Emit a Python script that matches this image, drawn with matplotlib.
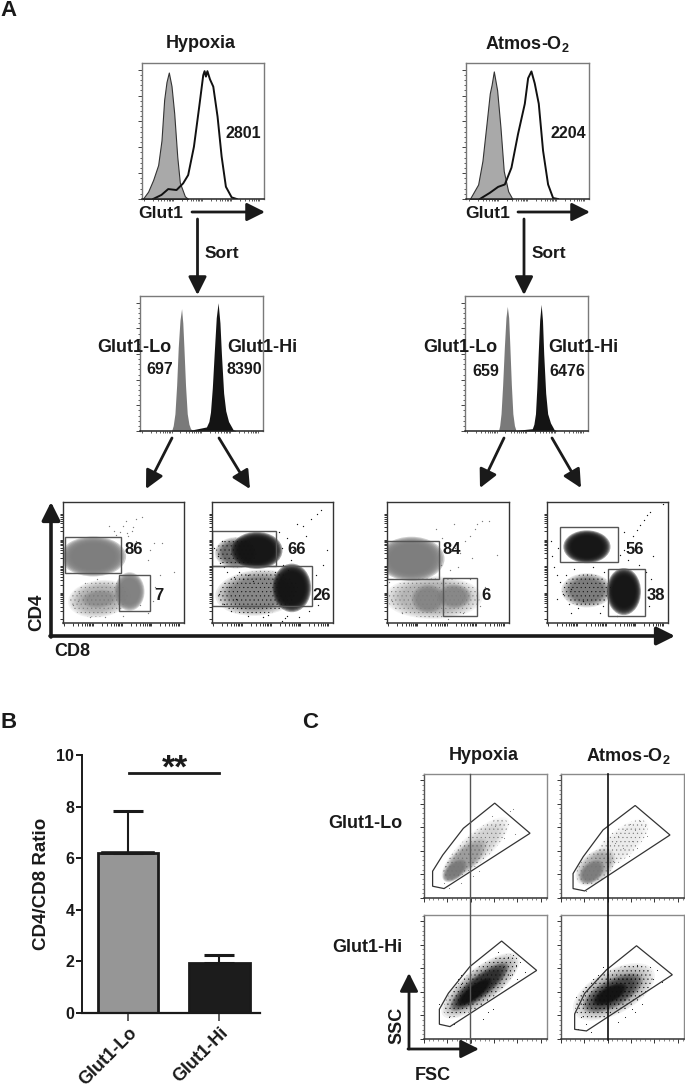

import numpy as np
import matplotlib
matplotlib.use('Agg')
import matplotlib.pyplot as plt
from matplotlib.patches import Ellipse, Polygon, Rectangle

plt.rcParams['font.family'] = ['Liberation Sans', 'DejaVu Sans']
plt.rcParams['font.weight'] = 'bold'
plt.rcParams['axes.labelweight'] = 'bold'
plt.rcParams['mathtext.fontset'] = 'custom'
plt.rcParams['mathtext.rm'] = 'Liberation Sans:bold'
plt.rcParams['mathtext.default'] = 'rm'
plt.rcParams['hatch.linewidth'] = 0.3

W, H = 685, 1092
DOT_GRAY = '#7d7d7d'
BLACK = '#141414'
TEXT = '#1a1a1a'

#
# Data: everything, histograms and gates in percent of the plot box
#

# Glut1 histograms, before the sort
hyp_iso_x = [1, 5.4, 9.5, 13.6, 16.3, 18.5, 20.4, 22.3, 24.5, 26.7, 29.2, 31.3, 35.4, 38.1]
hyp_iso_y = [0, 5.4, 14, 25, 43, 73, 86, 93, 83, 63, 31, 12, 2, 0]
hyp_glut_x = [9.5, 16.3, 21.8, 28.6, 34, 38.1, 42.8, 47.1, 50.4, 51.5, 52.6, 53.8, 55.9, 58.6, 62.1, 65.4, 68.9, 73.6, 77.7]
hyp_glut_y = [0, 3, 7.3, 6.6, 11.5, 17.6, 38.4, 67.7, 91, 94, 90, 94, 88, 82.6, 60.5, 31.3, 9, 1.2, 0]
atm_iso_x = [2.7, 9.5, 13, 16.3, 19, 20.5, 22.3, 25, 27.7, 30.4, 34, 37.5]
atm_iso_y = [0, 10.7, 28, 55, 77.6, 84, 93.8, 80, 53, 20.6, 5.7, 0]
atm_glut_x = [10.9, 19, 25.8, 31.3, 36.7, 42.1, 47.6, 50.3, 53, 55.7, 59, 62.5, 66.6, 70.7, 74.7]
atm_glut_y = [0, 4.5, 8.9, 10.7, 23, 47.9, 70, 88.8, 93.8, 85, 70, 35.5, 10.7, 0.7, 0]

# Glut1 histograms, after the sort
hyp_lo_x = [25.7, 27, 28.4, 29.8, 31.1, 32.5, 33.8, 34.8, 35.7, 37, 38.4, 39.8, 41.1, 43.2]
hyp_lo_y = [0, 4, 12.8, 34, 62, 82, 90.6, 80, 62, 34, 12.8, 5, 1.7, 0]
hyp_hi_x = [40.5, 54, 56, 57.3, 58.8, 60.3, 62, 63.5, 65, 66.2, 68, 69.7, 72, 75.7, 78.4]
hyp_hi_y = [0.5, 3, 7, 14, 32, 57, 84, 95, 80, 57, 28, 15, 7, 1, 0]
atm_lo_x = [27.2, 28.2, 29.3, 30.6, 32, 33.3, 34.4, 35.5, 36.5, 37.7, 38.9, 40.2, 41.6]
atm_lo_y = [0, 4, 12.8, 34, 62, 84, 92.3, 84, 62, 34, 12.8, 4, 0]
atm_hi_x = [41.6, 54.7, 56, 57.3, 58.4, 59.5, 60.7, 61.9, 63, 64, 65.6, 67.2, 69.5, 72.5, 74.7]
atm_hi_y = [0.5, 1.7, 5, 12.8, 32, 57, 82, 93.8, 82, 57, 28, 12.8, 6, 1, 0]

# CD4/CD8 dot plots: populations as (x, y, width, height, angle, density)
cd_hyp_lo_pops = [(30, 20, 44, 26, 8, 0.55), (25, 55, 46, 28, 0, 0.98), (55, 26, 21, 27, 0, 0.95), (30, 20, 26, 13, 5, 0.6)]
cd_hyp_hi_pops = [(38, 25, 60, 32, 5, 0.5), (20, 58, 30, 22, 0, 0.6), (37, 60, 36, 26, 0, 0.98), (66, 29, 27, 34, 0, 0.98)]
cd_atm_lo_pops = [(38, 21, 68, 30, 0, 0.55), (20, 53, 46, 31, 0, 0.98), (34, 20, 24, 20, 0, 0.8), (55, 22, 24, 17, 0, 0.75)]
cd_atm_hi_pops = [(33, 27, 36, 24, 0, 0.55), (33, 63, 33, 23, 0, 0.98), (63.5, 26, 24, 33, 0, 0.98)]

# loose events around the populations
cd_hyp_lo_x = [38, 42, 50, 52, 54, 58, 60, 65, 57, 53, 75, 72, 82, 92, 60, 47, 44, 80, 70, 13, 12, 8, 64, 70, 74, 76, 50, 35, 22, 18, 28]
cd_hyp_lo_y = [80, 76, 80, 84, 72, 79, 86, 88, 76, 74, 66, 60, 66, 42, 68, 75, 73, 40, 52, 25, 18, 15, 15, 8, 18, 30, 6, 5, 5, 33, 36]
cd_hyp_hi_x = [2, 5, 7, 10, 8, 12, 55, 58, 62, 65, 70, 75, 78, 82, 87, 90, 95, 59, 63, 67, 72, 88, 92, 6, 10, 14, 18, 20, 16, 24, 30, 34, 42, 46, 52, 60, 72, 80, 84, 86, 22, 26, 30, 58, 62]
cd_hyp_hi_y = [62, 55, 50, 46, 68, 42, 75, 62, 70, 52, 82, 80, 72, 86, 90, 93, 60, 48, 44, 60, 66, 15, 48, 24, 16, 30, 38, 20, 10, 12, 6, 35, 5, 7, 42, 4, 5, 10, 20, 40, 42, 36, 40, 2, 6]
cd_atm_lo_x = [45, 48, 56, 60, 64, 68, 72, 74, 78, 84, 90, 44, 52, 55, 70, 40, 58, 2, 4, 12, 50, 80, 76, 62, 68]
cd_atm_lo_y = [70, 62, 62, 58, 68, 72, 78, 82, 84, 84, 56, 48, 44, 82, 54, 78, 46, 34, 18, 8, 3, 30, 14, 8, 36]
cd_atm_hi_x = [4, 6, 8, 3, 9, 60, 64, 68, 71, 74, 77, 80, 83, 85, 88, 94, 96, 67, 73, 64, 8, 11, 13, 16, 18, 20, 22, 26, 30, 38, 44, 47, 82, 84, 86, 58, 76, 20, 46]
cd_atm_hi_y = [55, 46, 40, 68, 62, 56, 60, 67, 72, 77, 81, 85, 89, 92, 55, 100, 98, 52, 60, 75, 20, 34, 24, 40, 16, 28, 45, 12, 18, 46, 8, 42, 42, 14, 36, 6, 48, 8, 14]

# CD4/CD8 gates as rectangles (x0, y0, x1, y1)
gate_hyp_lo = [(2, 41, 48, 71), (46, 10, 72, 39.5)]
gate_hyp_hi = [(0, 47, 53, 76), (0, 14, 83, 47)]
gate_atm_lo = [(0, 36, 43, 68), (46, 5.5, 74, 37)]
gate_atm_hi = [(11, 50, 59, 79.5), (50, 5.5, 81, 45)]

# FSC/SSC gates
fsc_gate_lo_hyp = [(7, 21.6), (7, 9.5), (16.3, 7.6), (86.2, 52.2), (57.5, 76.5), (32, 56.2), (15.2, 34.6)]
fsc_gate_lo_atm = [(9.8, 19.7), (9.8, 7.6), (19.3, 5.7), (88.6, 50.8), (60.3, 74.6), (34.2, 54.9), (18, 33.2)]
fsc_gate_hi_hyp = [(12.5, 24), (12.5, 11.9), (21.1, 10), (91.6, 55.3), (63.1, 79), (37.4, 58.5), (19.8, 36.9)]
fsc_gate_hi_atm = [(11.1, 20.2), (11.1, 7.8), (20.7, 6.5), (90.5, 51.8), (61.4, 75.2), (37, 55.8), (19.3, 36.9)]

# FSC/SSC clouds, same layout as the CD plots
fsc_lo_hyp_pops = [(42, 40, 60, 20, 42, 0.3), (33, 31, 40, 16, 42, 0.55), (25, 22, 20, 11, 42, 0.85)]
fsc_lo_atm_pops = [(48, 43, 50, 20, 40, 0.12), (28, 25, 32, 20, 40, 0.55), (25, 21, 20, 13, 42, 0.85)]
fsc_hi_hyp_pops = [(46, 43, 66, 24, 38, 0.4), (45, 42, 50, 15, 38, 0.75), (41, 38, 30, 9, 38, 0.88)]
fsc_hi_atm_pops = [(43, 38, 62, 30, 28, 0.35), (42, 37, 46, 19, 28, 0.65), (40, 36, 26, 11, 28, 0.88)]

fsc_lo_hyp_x = [70, 72, 68, 62, 58, 74, 55, 50, 65, 20, 16, 40, 45, 30]
fsc_lo_hyp_y = [70, 72, 60, 60, 58, 52, 66, 45, 48, 8, 12, 18, 22, 12]
fsc_lo_atm_x = [52, 56, 60, 64, 68, 58, 50, 46, 42, 70, 62, 55, 44, 20]
fsc_lo_atm_y = [55, 60, 55, 62, 58, 46, 40, 50, 30, 50, 40, 34, 44, 6]
fsc_hi_hyp_x = [75, 78, 72, 70, 68, 82, 60, 64, 30, 28, 20, 24, 48, 52, 56, 12, 30, 76]
fsc_hi_hyp_y = [60, 62, 68, 52, 66, 54, 70, 58, 44, 48, 18, 12, 16, 22, 24, 28, 52, 48]
fsc_hi_atm_x = [20, 24, 18, 16, 20, 75, 78, 72, 82, 60, 30, 34, 46, 52, 58, 62, 14, 26, 66, 12]
fsc_hi_atm_y = [12, 6, 28, 18, 42, 48, 56, 58, 46, 22, 52, 58, 14, 18, 24, 60, 8, 48, 28, 34]

# Bar chart
bar_labels = ['Glut1-Lo', 'Glut1-Hi']
bar_values = [6.2, 1.95]
bar_errors = [1.62, 0.3]
bar_colors = ['#969696', '#1c1c1c']
bar_yticks = [0, 2, 4, 6, 8, 10]
sig_level = 9.3


#
# Helpers
#

def box(x0, y0, x1, y1):
    # axes from a pixel box, y from the top of the picture
    ax = fig.add_axes([x0 / W, 1 - y1 / H, (x1 - x0) / W, (y1 - y0) / H])
    ax.set_xlim(0, 100)
    ax.set_ylim(0, 100)
    return ax


def log_ticks(start, stop, decades):
    step = (stop - start) / decades
    return [start + step * (d + np.log10(k)) for d in range(decades) for k in range(1, 10)]


def frame(ax, color='#7a7a7a', bottom='#222222', left='#777777'):
    for side in ['top', 'right']:
        ax.spines[side].set_color(color)
        ax.spines[side].set_linewidth(1.0)
    ax.spines['bottom'].set_color(bottom)
    ax.spines['left'].set_color(left)
    ax.spines['bottom'].set_linewidth(1.1)
    ax.spines['left'].set_linewidth(1.0)
    ax.set_xticklabels([])
    ax.set_yticklabels([])


def hist_box(x0, y0, x1, y1):
    ax = box(x0, y0, x1, y1)
    ax.set_xticks(log_ticks(2, 97, 4))
    ax.set_yticks([0, 19, 38, 57, 76, 95])
    ax.set_yticks(np.arange(0, 97, 3.8), minor=True)
    ax.tick_params(axis='both', which='both', length=1.5, width=0.6, color='#444444')
    ax.tick_params(axis='y', which='major', length=3, width=0.7)
    frame(ax)
    ax.set_xticklabels([])
    return ax


def draw_pops(ax, pops, color):
    # soft edge: a stack of thin ellipses for each population
    n = 8
    for x, y, w, h, angle, density in pops:
        a = 1 - (1 - density) ** (1 / n)
        for s in np.linspace(1.18, 0.78, n):
            ax.add_patch(Ellipse((x, y), w * s, h * s, angle=angle, facecolor=color, edgecolor='none', alpha=a))
        if density < 0.7:
            ax.add_patch(Ellipse((x, y), w * 1.12, h * 1.12, angle=angle, facecolor='none', edgecolor=color, hatch='....', lw=0))


def dot_box(x0, y0, x1, y1, pops, px, py, gates, color):
    ax = box(x0, y0, x1, y1)
    draw_pops(ax, pops, color)
    ax.scatter(px, py, s=0.9, color=color, linewidths=0)
    for gx0, gy0, gx1, gy1 in gates:
        ax.add_patch(Rectangle((gx0, gy0), gx1 - gx0, gy1 - gy0, fill=False, edgecolor='#555555', lw=1.0))
    ax.set_xticks(log_ticks(1, 97, 4))
    ax.set_yticks(log_ticks(3, 91, 4))
    ax.tick_params(axis='both', length=2.5, width=0.7, color='#333333')
    frame(ax, color='#333333', bottom='#333333', left='#333333')
    ax.set_xticklabels([])
    ax.set_yticklabels([])
    return ax


def fsc_box(x0, y0, x1, y1, pops, px, py, gate, color):
    ax = box(x0, y0, x1, y1)
    draw_pops(ax, pops, color)
    ax.scatter(px, py, s=0.6, color=color, linewidths=0)
    ax.add_patch(Polygon(gate, closed=True, fill=False, edgecolor='#333333', lw=0.9))
    ax.set_xticks([0, 19, 38, 57, 76, 95])
    ax.set_yticks([0, 19, 38, 57, 76, 95])
    ax.set_xticks(np.arange(0, 100, 3.8), minor=True)
    ax.set_yticks(np.arange(0, 100, 3.8), minor=True)
    ax.tick_params(axis='both', which='major', length=3, width=0.7, color='#333333')
    ax.tick_params(axis='both', which='minor', length=1.5, width=0.5, color='#555555')
    frame(ax, color='#8a8a8a', bottom='#333333', left='#555555')
    ax.set_xticklabels([])
    ax.set_yticklabels([])
    return ax


fig = plt.figure(figsize=(W / 100, H / 100), dpi=100)

#
# Panel A
#

ax = hist_box(141.5, 63, 264, 199)
ax.fill_between(hyp_iso_x, hyp_iso_y, color='#a9a9a9', lw=0.8, edgecolor='#333333')
ax.plot(hyp_glut_x, hyp_glut_y, color='#111111', lw=1.4)

ax = hist_box(466.5, 63, 589, 199)
ax.fill_between(atm_iso_x, atm_iso_y, color='#a9a9a9', lw=0.8, edgecolor='#333333')
ax.plot(atm_glut_x, atm_glut_y, color='#111111', lw=1.4)

ax = hist_box(140, 296, 263, 431)
ax.fill_between(hyp_lo_x, hyp_lo_y, color='#7a7a7a', lw=0)
ax.fill_between(hyp_hi_x, hyp_hi_y, color=BLACK, lw=0)

ax = hist_box(465, 296, 588, 431)
ax.fill_between(atm_lo_x, atm_lo_y, color='#7a7a7a', lw=0)
ax.fill_between(atm_hi_x, atm_hi_y, color=BLACK, lw=0)

dot_box(63, 502, 184, 623, cd_hyp_lo_pops, cd_hyp_lo_x, cd_hyp_lo_y, gate_hyp_lo, DOT_GRAY)
dot_box(212, 502, 333, 623, cd_hyp_hi_pops, cd_hyp_hi_x, cd_hyp_hi_y, gate_hyp_hi, BLACK)
dot_box(387, 502, 509, 623, cd_atm_lo_pops, cd_atm_lo_x, cd_atm_lo_y, gate_atm_lo, DOT_GRAY)
dot_box(547, 502, 668, 623, cd_atm_hi_pops, cd_atm_hi_x, cd_atm_hi_y, gate_atm_hi, BLACK)

#
# Panel B
#

ax = fig.add_axes([82 / W, 1 - 1013 / H, 178 / W, 258 / H])
positions = [1, 2]
ax.bar(positions, bar_values, width=0.66, color=bar_colors, edgecolor='#1a1a1a', linewidth=2)
ax.errorbar(positions, bar_values, yerr=[[0, 0], bar_errors], fmt='none', ecolor='#1a1a1a', elinewidth=1.5, capsize=11, capthick=2.2)
ax.plot([0.73, 1.27], [bar_values[0], bar_values[0]], color='#1a1a1a', lw=2.6)
ax.plot([1.01, 2.0], [sig_level, sig_level], color='#1a1a1a', lw=2)
ax.set_xlim(0.497, 2.443)
ax.set_ylim(0, 10)
ax.set_yticks(bar_yticks)
ax.set_xticks(positions)
ax.set_xticklabels(bar_labels, rotation=45, ha='right', rotation_mode='anchor', fontsize=13, color=TEXT, fontweight='bold')
ax.tick_params(axis='y', labelsize=11.5, length=4, width=1.4, color='#1a1a1a', labelcolor=TEXT, pad=1.5)
ax.tick_params(axis='x', length=6, width=1.2, color='#444444', pad=2)
for t in ax.get_yticklabels():
    t.set_fontweight('bold')
ax.spines['top'].set_visible(False)
ax.spines['right'].set_visible(False)
ax.spines['left'].set_linewidth(1.4)
ax.spines['bottom'].set_linewidth(1.6)
ax.spines['left'].set_color('#1a1a1a')
ax.spines['bottom'].set_color('#1a1a1a')
ax.set_ylabel('CD4/CD8 Ratio', fontsize=13.5, color=TEXT, labelpad=5)
ax.patch.set_alpha(0)

#
# Panel C
#

fsc_box(424, 774, 547, 898, fsc_lo_hyp_pops, fsc_lo_hyp_x, fsc_lo_hyp_y, fsc_gate_lo_hyp, '#767676')
fsc_box(561, 774, 684, 898, fsc_lo_atm_pops, fsc_lo_atm_x, fsc_lo_atm_y, fsc_gate_lo_atm, '#767676')
fsc_box(424, 915, 547, 1039, fsc_hi_hyp_pops, fsc_hi_hyp_x, fsc_hi_hyp_y, fsc_gate_hi_hyp, '#101010')
fsc_box(561, 915, 684, 1039, fsc_hi_atm_pops, fsc_hi_atm_x, fsc_hi_atm_y, fsc_gate_hi_atm, '#101010')

#
# Labels and arrows on top, in picture pixels
#

page = fig.add_axes([0, 0, 1, 1], zorder=10)
page.set_xlim(0, W)
page.set_ylim(H, 0)
page.axis('off')


def arrow(x0, y0, x1, y1, lw=2.0, head=11, wide=5.5):
    page.annotate('', xy=(x1, y1), xytext=(x0, y0),
                  arrowprops=dict(arrowstyle='-|>,head_length=%.2f,head_width=%.2f' % (head / 10, wide / 10),
                                  mutation_scale=10, lw=lw, color='#1a1a1a', shrinkA=0, shrinkB=0))


def label(x, y, s, size=12.5, **kw):
    page.text(x, y, s, fontsize=size, ha='center', va='center', color=TEXT, **kw)


arrow(192, 212, 265, 212)
arrow(518, 212, 590, 212)
arrow(197.5, 219, 197.5, 295)
arrow(524, 219, 524, 295)
arrow(172, 438, 146, 489)
arrow(219, 438, 250, 489)
arrow(504, 438, 480, 488)
arrow(552, 438, 581, 488)
arrow(51, 637, 51, 502, lw=2.6)
arrow(50, 636, 675, 636, lw=2.6)
arrow(409, 1049, 409, 973, lw=2.0)
arrow(408, 1049, 479, 1049, lw=2.0)
page.plot([470, 470], [774, 1043], color='#555555', lw=1.0)
page.plot([608, 608], [774, 1040], color='#111111', lw=1.2)

label(9, 11, 'A', size=16)
label(9, 723, 'B', size=16)
label(310, 723, 'C', size=16)

label(201, 43, 'Hypoxia', size=13)
label(527, 44, 'Atmos-O$_2$', size=13)
label(161, 213, 'Glut1')
label(488, 213, 'Glut1')
label(222, 254, 'Sort')
label(549, 254, 'Sort')
label(243, 134, '2801', size=11.5)
label(568, 134, '2204', size=11.5)

label(134, 348, 'Glut1-Lo', size=13)
label(262, 348, 'Glut1-Hi', size=13)
label(160, 370, '697', size=11.5)
label(244, 370, '8390', size=11.5)
label(460, 348, 'Glut1-Lo', size=13)
label(583, 348, 'Glut1-Hi', size=13)
label(486, 371, '659', size=11.5)
label(567, 371, '6476', size=11.5)

label(134, 549, '86', size=12)
label(159, 595, '7', size=12)
label(297, 549, '66', size=12)
label(322, 595, '26', size=12)
label(452, 549, '84', size=12)
label(486, 595, '6', size=12)
label(635, 549, '56', size=12)
label(656, 595, '38', size=12)
label(37, 612, 'CD4', size=13.5, rotation=90)
label(72, 652, 'CD8', size=13)

label(175, 769, '**', size=24)

label(484, 755, 'Hypoxia', size=13)
label(628, 756, 'Atmos-O$_2$', size=13)
label(365, 824, 'Glut1-Lo', size=13)
label(367, 948, 'Glut1-Hi', size=13)
label(397, 1025, 'SSC', size=13, rotation=90)
label(433, 1076, 'FSC', size=13)

fig.savefig('out.png', dpi=100)
